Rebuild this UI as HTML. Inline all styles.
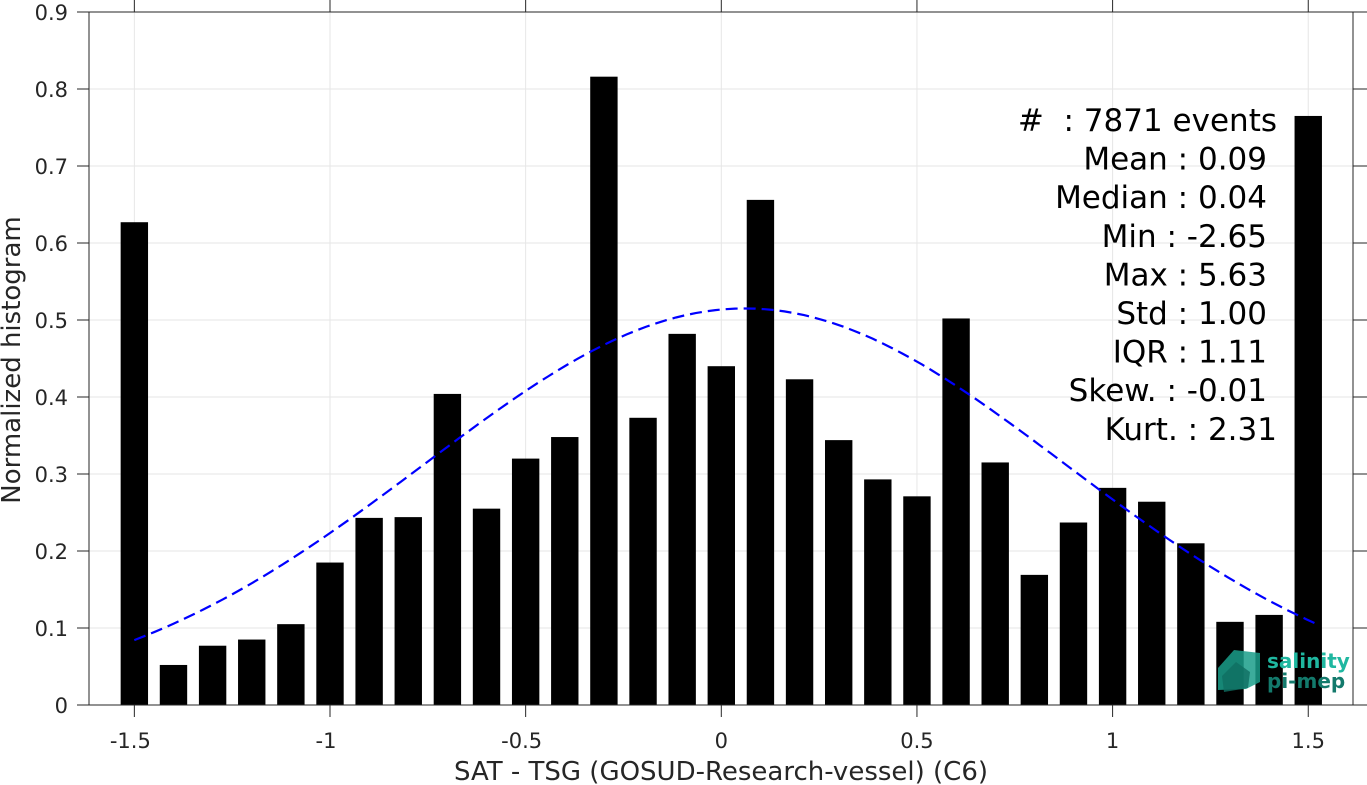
<!DOCTYPE html>
<html><head><meta charset="utf-8"><style>
body{margin:0;background:#fff;}
svg{display:block;font-family:"DejaVu Sans","Liberation Sans",sans-serif;}
</style></head><body>
<svg id="chart" width="1367" height="785"></svg>
<script>
const categories=[-1.5,-1.4,-1.3,-1.2,-1.1,-1.0,-0.9,-0.8,-0.7,-0.6,-0.5,-0.4,-0.3,-0.2,-0.1,0,0.1,0.2,0.3,0.4,0.5,0.6,0.7,0.8,0.9,1.0,1.1,1.2,1.3,1.4,1.5];
const values=[0.627,0.052,0.077,0.085,0.105,0.185,0.243,0.244,0.404,0.255,0.320,0.348,0.816,0.373,0.482,0.440,0.656,0.423,0.344,0.293,0.271,0.502,0.315,0.169,0.237,0.282,0.264,0.210,0.108,0.117,0.765];
const xTicks=[-1.5,-1,-0.5,0,0.5,1,1.5];
const xTickLabels=["-1.5","-1","-0.5","0","0.5","1","1.5"];
const yTicks=[0,0.1,0.2,0.3,0.4,0.5,0.6,0.7,0.8,0.9];
const yTickLabels=["0","0.1","0.2","0.3","0.4","0.5","0.6","0.7","0.8","0.9"];
const fitParams=[0.06,0.82,0.515];
const statsLabels=["#  : 7871 events","Mean : 0.09","Median : 0.04","Min : -2.65","Max : 5.63","Std : 1.00","IQR : 1.11","Skew. : -0.01","Kurt. : 2.31"];

const NS="http://www.w3.org/2000/svg";
const svg=document.getElementById('chart');
const L=89,R=1353,T=12,B=705;
const X=v=>721.3+v*391.3;
const Y=v=>B-(v/0.9)*(B-T);
function mk(tag,attrs,parent){const e=document.createElementNS(NS,tag);for(const k in attrs)e.setAttribute(k,attrs[k]);(parent||svg).appendChild(e);return e;}

xTicks.forEach(t=>{const g=mk('line',{x1:X(t),x2:X(t),y1:T,y2:B,stroke:'#e6e6e6','stroke-width':1});

});
yTicks.forEach(t=>{const g=mk('line',{x1:L,x2:R,y1:Y(t),y2:Y(t),stroke:'#e6e6e6','stroke-width':1});

});

const bw=0.07*391.3;
categories.forEach((c,i)=>{const b=mk('rect',{x:X(c)-bw/2,y:Y(values[i]),width:bw,height:Y(0)-Y(values[i]),fill:'#000'});

});

const mu=fitParams[0],sg=fitParams[1],amp=fitParams[2];
let d='';
const x0=categories[0],x1=categories[categories.length-1]+0.02;
for(let k=0;k<=120;k++){const v=x0+k*(x1-x0)/120;
const y=amp*Math.exp(-(v-mu)*(v-mu)/(2*sg*sg));
d+=(k?'L':'M')+X(v).toFixed(1)+','+Y(y).toFixed(1);}
const fit=mk('path',{d:d,fill:'none',stroke:'#0000ff','stroke-width':2.2,'stroke-dasharray':'12,6'});



const fr=mk('rect',{x:L,y:T,width:R-L,height:B-T,fill:'none',stroke:'#262626','stroke-width':1});



xTicks.forEach((t,i)=>{mk('line',{x1:X(t),x2:X(t),y1:B,y2:B+12,stroke:'#262626'});mk('line',{x1:X(t),x2:X(t),y1:T,y2:0,stroke:'#262626'});
const tx=mk('text',{x:X(t)-(xTickLabels[i][0]=='-'?4:0),y:748,'text-anchor':'middle','font-size':21,fill:'#262626'});tx.textContent=xTickLabels[i];

});
yTicks.forEach((t,i)=>{mk('line',{x1:L,x2:L-12,y1:Y(t),y2:Y(t),stroke:'#262626'});mk('line',{x1:R,x2:R+14,y1:Y(t),y2:Y(t),stroke:'#262626'});
const tx=mk('text',{x:68,y:Y(t)+8,'text-anchor':'end','font-size':21,fill:'#262626'});tx.textContent=yTickLabels[i];

});

const xt=mk('text',{x:721,y:780,'text-anchor':'middle','font-size':26,fill:'#262626'});xt.textContent='SAT - TSG (GOSUD-Research-vessel) (C6)';


const yt=mk('text',{x:0,y:0,transform:'translate(20,360) rotate(-90)','text-anchor':'middle','font-size':26,fill:'#262626'});yt.textContent='Normalized histogram';



statsLabels.forEach((s,i)=>{const tx=mk('text',{x:(i==0||i==8)?1277:1267,y:131+i*38.6,'text-anchor':'end','font-size':31,fill:'#000','xml:space':'preserve',style:'white-space:pre'});tx.textContent=s;

});

const lg=mk('g',{});


mk('polygon',{points:'1218,668 1234,650 1260,653 1260,682 1246,689 1218,690',fill:'#1a9e8a',opacity:0.85},lg);
mk('polygon',{points:'1222,676 1236,662 1250,672 1248,688 1224,692',fill:'#0f6e62',opacity:0.8},lg);
const t1=mk('text',{x:1267,y:668,'font-size':20,'font-weight':'bold',fill:'#1fb7a0'},lg);t1.textContent='salinity';
const t2=mk('text',{x:1267,y:688,'font-size':20,'font-weight':'bold',fill:'#137a6c'},lg);t2.textContent='pi-mep';
</script>
</body></html>
